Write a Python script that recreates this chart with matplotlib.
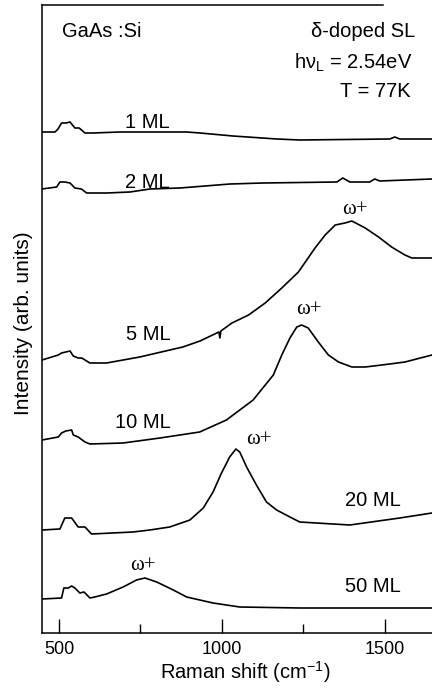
import numpy as np
import matplotlib.pyplot as plt

# Raman spectra of delta-doped GaAs:Si superlattices, offset for clarity
shift_1ml = [448, 488, 497, 508, 522, 534, 549, 562, 580, 604, 687, 758, 892, 933, 1034, 1169, 1239, 1515, 1531, 1546, 1645]
int_1ml = [501, 501, 504, 510, 510, 511, 505, 505, 500, 500, 501, 501, 501, 500, 497, 494, 493, 494, 496, 494, 494]

shift_2ml = [448, 493, 503, 518, 534, 549, 569, 585, 646, 718, 779, 871, 1025, 1126, 1353, 1371, 1393, 1454, 1469, 1485, 1645]
int_2ml = [444, 446, 451, 451, 450, 445, 444, 440, 440, 441, 444, 445, 449, 450, 451, 455, 451, 451, 454, 452, 454]

shift_5ml = [448, 498, 508, 534, 544, 559, 570, 595, 646, 748, 880, 933, 991, 994, 997, 1031, 1082, 1133,
             1184, 1235, 1286, 1317, 1348, 1378, 1399, 1440, 1481, 1521, 1562, 1583, 1645]
int_5ml = [273, 278, 280, 282, 277, 275, 275, 270, 270, 276, 286, 292, 301, 295, 302, 310, 318, 330,
           345, 361, 385, 398, 408, 410, 412, 405, 396, 386, 378, 375, 375]

shift_10ml = [448, 498, 508, 521, 539, 544, 559, 580, 595, 697, 810, 932, 1014, 1096, 1158, 1184, 1209, 1230,
              1245, 1265, 1296, 1327, 1358, 1399, 1440, 1491, 1562, 1645]
int_10ml = [193, 196, 200, 202, 203, 198, 196, 191, 189, 190, 195, 201, 213, 233, 258, 278, 295, 306,
            308, 305, 291, 278, 271, 266, 266, 268, 271, 278]

shift_20ml = [448, 503, 518, 539, 559, 580, 600, 727, 779, 840, 902, 943, 973, 999, 1024, 1043, 1055, 1076,
              1106, 1137, 1168, 1209, 1239, 1290, 1393, 1546, 1645]
int_20ml = [103, 104, 115, 115, 106, 106, 99, 101, 103, 106, 113, 125, 141, 160, 176, 184, 181, 166,
            148, 131, 123, 116, 111, 110, 108, 115, 120]

shift_50ml = [448, 508, 515, 529, 539, 549, 564, 577, 595, 610, 646, 697, 738, 764, 800, 851, 892, 973,
              1055, 1239, 1645]
int_50ml = [34, 35, 45, 45, 47, 45, 40, 41, 35, 36, 39, 46, 53, 55, 51, 43, 36, 30,
            26, 25, 25]

spectra = [(shift_1ml, int_1ml), (shift_2ml, int_2ml), (shift_5ml, int_5ml),
           (shift_10ml, int_10ml), (shift_20ml, int_20ml), (shift_50ml, int_50ml)]

ml_labels = ['1 ML', '2 ML', '5 ML', '10 ML', '20 ML', '50 ML']
ml_label_pos = [(770, 511), (770, 451), (773, 298), (758, 210), (1463, 132), (1463, 46)]
omega_pos = [(1409, 424), (1266, 323), (1114, 194), (759, 68)]

plt.rcParams['font.family'] = ['Liberation Sans', 'DejaVu Sans']
plt.rcParams['mathtext.fontset'] = 'custom'
plt.rcParams['mathtext.rm'] = 'Liberation Sans'
plt.rcParams['mathtext.it'] = 'Liberation Sans:italic'

fig = plt.figure(figsize=(4.32, 6.88), dpi=100)
ax = fig.add_axes([42 / 432, 55 / 688, 390 / 432, 628 / 688])

for x, y in spectra:
    ax.plot(x, y, color='black', lw=1.2)

for lab, (x, y) in zip(ml_labels, ml_label_pos):
    ax.text(x, y, lab, fontsize=14.5, ha='center', va='center')
for x, y in omega_pos:
    ax.text(x, y, 'ω+', fontsize=15, ha='center', va='center', family=['Liberation Serif', 'DejaVu Serif'])

ax.text(0.05, 0.9575, 'GaAs :Si', transform=ax.transAxes, fontsize=14.5, ha='left', va='center')
ax.text(0.956, 0.9575, 'δ-doped SL', transform=ax.transAxes, fontsize=14.5, ha='right', va='center')
ax.text(0.949, 0.908, 'hν$_{\\mathrm{L}}$ = 2.54eV', transform=ax.transAxes, fontsize=14.5, ha='right', va='center')
ax.text(0.946, 0.862, 'T = 77K', transform=ax.transAxes, fontsize=14.5, ha='right', va='center')

ax.set_xlim(448, 1645)
ax.set_ylim(0, 628)
ax.set_xticks([500, 1000, 1500])
ax.set_xticks([750, 1250], minor=True)
ax.set_yticks([])
ax.tick_params(axis='x', which='major', direction='in', length=10, width=1.0, labelsize=13, pad=5.5)
ax.tick_params(axis='x', which='minor', direction='in', length=6.5, width=1.0)

ax.spines['right'].set_visible(False)
ax.spines['top'].set_bounds(448, 1494)
for s in ['left', 'bottom', 'top']:
    ax.spines[s].set_linewidth(1.1)

fig.text(245 / 432, 1 - 679 / 688, 'Raman shift (cm$^{-1}$)', fontsize=14.5, ha='center', va='baseline')
fig.text(24 / 432, 1 - 323 / 688, 'Intensity (arb. units)', fontsize=15, ha='center', va='center', rotation=90)

fig.savefig('out.png', dpi=100)
